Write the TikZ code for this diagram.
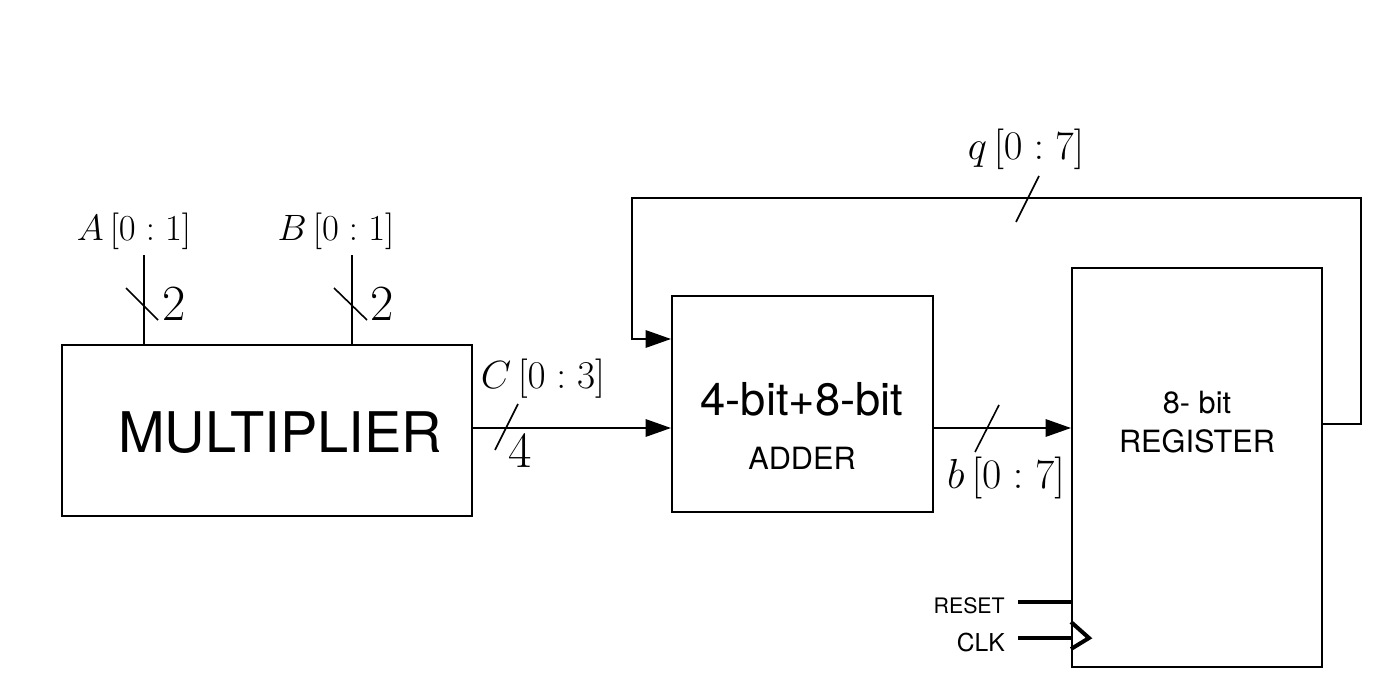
\RequirePackage{fix-cm}
\documentclass[tikz,border=0pt]{standalone}
\usepackage{fontspec}
\newfontfamily\helv{TeX Gyre Heros}
\usetikzlibrary{arrows.meta}
\begin{document}
\begin{tikzpicture}[x=0.75pt,y=-0.75pt,
  wire/.style={line width=1.5pt},
  busmark/.style={line width=1.2pt},
  box/.style={draw,line width=1.5pt,inner sep=0pt},
  arr/.style={-{Triangle[length=19pt,width=13pt]}},
  thk/.style={line width=3pt},
  lbl/.style={inner sep=0pt},
  sansbig/.style={lbl,font=\helv\fontsize{42}{50}\selectfont},
  sansmid/.style={lbl,font=\helv\fontsize{34}{40}\selectfont},
  sanssm/.style={lbl,font=\helv\fontsize{23}{28}\selectfont},
  sanstiny/.style={lbl,font=\helv\fontsize{16}{19}\selectfont},
  sansclk/.style={lbl,font=\helv\fontsize{18.5}{22}\selectfont}]
\useasboundingbox (0,0) rectangle (1384,684);
% blocks
\node[box,minimum width=307.5pt,minimum height=128.25pt] (mul) at (267,430.5) {};
\node[box,minimum width=195.75pt,minimum height=162pt] (add) at (802.5,404) {};
\node[box,minimum width=187.5pt,minimum height=299.25pt] (reg) at (1197,467.5) {};
% block texts
\node[sansbig,anchor=base] (multxt) at (280,452) {MULTIPLIER};
\node[sansmid,anchor=base] (addt1) at (802,415) {4-bit+8-bit};
\node[sanssm,anchor=base] (addt2) at (802,469) {ADDER};
\node[sanssm,anchor=base] (regt1) at (1197,413) {8- bit};
\node[sanssm,anchor=base] (regt2) at (1197,452) {REGISTER};
% inputs A and B
\coordinate (ain) at (144,255);
\coordinate (bin) at (352,255);
\draw[wire] (ain) -- (ain |- mul.north);
\draw[wire] (bin) -- (bin |- mul.north);
\draw[busmark] (126,288) -- (158,320);
\draw[busmark] (334,288) -- (367,320);
\node[lbl,anchor=base] (alab) at (134,241) {\fontsize{27.5}{31}\selectfont $A\,[0:1]$};
\node[lbl,anchor=base] (blab) at (336,241) {\fontsize{27.5}{31}\selectfont $B\,[0:1]$};
\node[lbl] (an) at (174,304) {\fontsize{38}{42}\selectfont $2$};
\node[lbl] (bn) at (382,304) {\fontsize{38}{42}\selectfont $2$};
% C bus
\draw[wire,arr] (mul.east |- 0,428) -- (add.west |- 0,428);
\draw[busmark] (495,450) -- (518,404);
\node[lbl,anchor=base] (clab) at (543,388) {\fontsize{29.5}{33}\selectfont $C\,[0:3]$};
\node[lbl] (cn) at (520,451) {\fontsize{38}{42}\selectfont $4$};
% b bus
\draw[wire,arr] (add.east |- 0,428) -- (reg.west |- 0,428);
\draw[busmark] (975,452) -- (999,405);
\node[lbl,anchor=base] (blab2) at (1006,488) {\fontsize{31.5}{35}\selectfont $b\,[0:7]$};
% q feedback
\coordinate (q1) at (1361,424);
\coordinate (q2) at (1361,198);
\coordinate (q3) at (632,198);
\coordinate (q4) at (632,339);
\draw[wire,arr] (reg.east |- q1) -- (q1) -- (q2) -- (q3) -- (q4) -- (add.west |- q4);
\draw[busmark] (1016,222) -- (1039,176);
\node[lbl,anchor=base] (qlab) at (1026,160) {\fontsize{30.5}{34}\selectfont $q\,[0:7]$};
% reset and clock
\coordinate (rst) at (1018,602);
\coordinate (clk) at (1018,638);
\draw[thk] (rst) -- (reg.west |- rst);
\draw[thk] (clk) -- (reg.west |- clk);
\draw[thk] (reg.west |- 0,622) -- (1089,638) -- (reg.west |- 0,649);
\node[sanstiny,anchor=base east] (rstt) at (1005,613) {RESET};
\node[sansclk,anchor=base east] (clkt) at (1005,651) {CLK};
\end{tikzpicture}
\end{document}
